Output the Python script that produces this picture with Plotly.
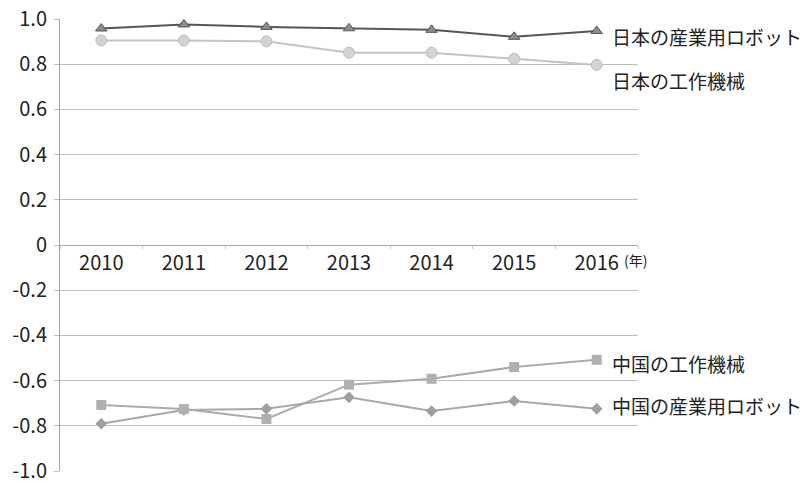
import plotly.graph_objects as go

years = ["2010", "2011", "2012", "2013", "2014", "2015", "2016"]

jp_robot = [0.958, 0.976, 0.965, 0.959, 0.952, 0.921, 0.947]
jp_machine = [0.905, 0.905, 0.901, 0.851, 0.851, 0.824, 0.797]
cn_machine = [-0.708, -0.726, -0.770, -0.618, -0.592, -0.540, -0.508]
cn_robot = [-0.791, -0.730, -0.725, -0.674, -0.735, -0.690, -0.725]

labels = ["日本の産業用ロボット", "日本の工作機械", "中国の工作機械", "中国の産業用ロボット"]
label_y = [0.922, 0.73, -0.524, -0.712]

y_ticks = [1.0, 0.8, 0.6, 0.4, 0.2, 0.0, -0.2, -0.4, -0.6, -0.8, -1.0]
y_tick_text = ["1.0", "0.8", "0.6", "0.4", "0.2", "0", "-0.2", "-0.4", "-0.6", "-0.8", "-1.0"]

FONT = "Noto Sans CJK JP"
last_idx = len(years) - 1

fig = go.Figure()

fig.add_trace(go.Scatter(
    x=years, y=jp_machine, mode="lines+markers",
    line=dict(color="#c4c4c4", width=2),
    marker=dict(symbol="circle", size=11, color="#d3d3d3",
                line=dict(color="#bdbdbd", width=1)),
))
fig.add_trace(go.Scatter(
    x=years, y=jp_robot, mode="lines+markers",
    line=dict(color="#555555", width=2),
    marker=dict(symbol="triangle-up", size=10, color="#8c8c8c",
                line=dict(color="#555555", width=1)),
))
fig.add_trace(go.Scatter(
    x=years, y=cn_robot, mode="lines+markers",
    line=dict(color="#a8a8a8", width=2),
    marker=dict(symbol="diamond", size=9, color="#a0a0a0"),
))
fig.add_trace(go.Scatter(
    x=years, y=cn_machine, mode="lines+markers",
    line=dict(color="#ababab", width=2),
    marker=dict(symbol="square", size=10, color="#b0b0b0"),
))

for text, yv in zip(labels, label_y):
    fig.add_annotation(
        x=last_idx, y=yv, xref="x", yref="y", text=text,
        showarrow=False, xanchor="left", yanchor="middle", xshift=13,
        font=dict(family=FONT, size=19, color="#222222"),
    )

fig.add_annotation(
    x=last_idx, y=0, xref="x", yref="y", text="(年)",
    showarrow=False, xanchor="left", yanchor="top", xshift=25, yshift=-3,
    font=dict(family=FONT, size=14, color="#222222"),
)

fig.update_layout(
    width=805, height=484,
    margin=dict(l=60, r=167, t=19, b=13, autoexpand=False),
    paper_bgcolor="white", plot_bgcolor="white",
    showlegend=False,
    font=dict(family=FONT, size=19, color="#222222"),
    xaxis=dict(
        type="category", range=[-0.5, 6.5],
        anchor="free", position=0.5, automargin=False,
        showline=True, linecolor="#a6a6a6", linewidth=1,
        ticks="outside", tickson="boundaries", ticklen=3, tickcolor="#c8c8c8",
        showgrid=False, zeroline=False,
        tickfont=dict(family=FONT, size=20, color="#222222"),
    ),
    yaxis=dict(
        range=[-1.0, 1.0], tickvals=y_ticks, ticktext=y_tick_text,
        automargin=False,
        showline=True, linecolor="#a6a6a6", linewidth=1,
        ticks="outside", ticklen=5, tickcolor="#bdbdbd",
        ticklabelstandoff=3,
        showgrid=True, gridcolor="#bdbdbd", gridwidth=1,
        zeroline=False,
        tickfont=dict(family=FONT, size=20, color="#222222"),
    ),
)

fig.write_html("out.html")
